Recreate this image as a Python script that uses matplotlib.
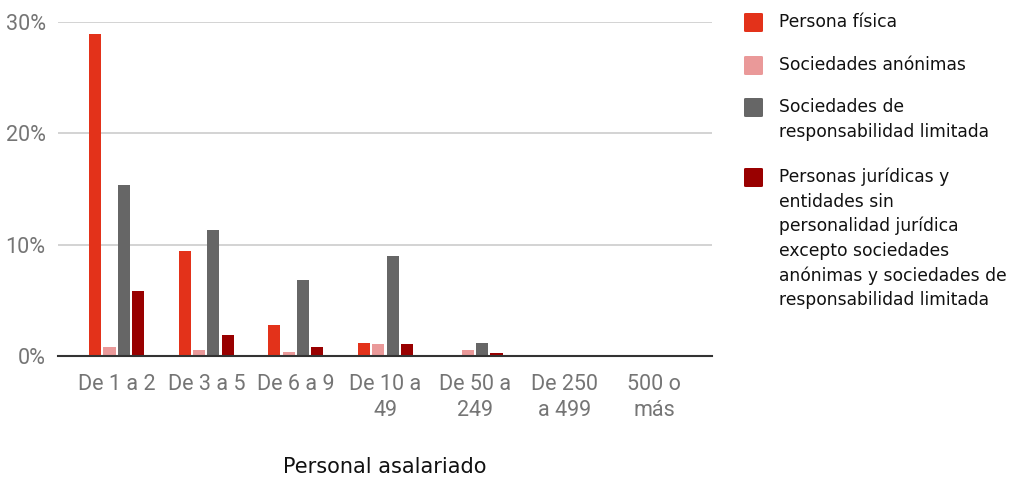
import matplotlib
matplotlib.use("Agg")
import matplotlib.pyplot as plt
import numpy as np
from matplotlib.patches import FancyBboxPatch

# data (percent)
categories = ["De 1 a 2", "De 3 a 5", "De 6 a 9", "De 10 a\n49", "De 50 a\n249", "De 250\na 499", "500 o\nmás"]
persona_fisica = [28.9, 9.4, 2.8, 1.2, 0.0, 0.0, 0.0]
soc_anonimas = [0.85, 0.55, 0.4, 1.05, 0.55, 0.0, 0.0]
soc_resp_limitada = [15.4, 11.3, 6.8, 9.0, 1.2, 0.0, 0.0]
otras_juridicas = [5.85, 1.85, 0.85, 1.05, 0.25, 0.0, 0.0]

series_names = [
    "Persona física",
    "Sociedades anónimas",
    "Sociedades de\nresponsabilidad limitada",
    "Personas jurídicas y\nentidades sin\npersonalidad jurídica\nexcepto sociedades\nanónimas y sociedades de\nresponsabilidad limitada",
]
series = [persona_fisica, soc_anonimas, soc_resp_limitada, otras_juridicas]
colors = ["#e3321a", "#ea9999", "#666666", "#990000"]

fig = plt.figure(figsize=(10.13, 4.78), dpi=100)
ax = fig.add_axes([58 / 1013, 1 - 356 / 478, 654 / 1013, 334 / 478])

x = np.arange(len(categories))
step = 0.16
width = 0.135
for i, (vals, col) in enumerate(zip(series, colors)):
    ax.bar(x + (i - 1.5) * step, vals, width, color=col, zorder=3)

ax.set_xlim(-0.655, len(categories) - 1 + 0.645)
ax.set_ylim(0, 30)
ax.set_yticks([0, 10, 20, 30])
ax.set_yticklabels(["0%", "10%", "20%", "30%"])
ax.yaxis.grid(True, color="#cccccc", linewidth=1.2, zorder=0)
ax.set_xticks(x)
ax.set_xticklabels(categories, linespacing=1.3)

for s in ["top", "right", "left"]:
    ax.spines[s].set_visible(False)
ax.spines["bottom"].set_color("#333333")
ax.spines["bottom"].set_linewidth(1.5)
ax.spines["bottom"].set_zorder(4)
ax.tick_params(axis="both", length=0, labelcolor="#757575", labelsize=15.5)
ax.tick_params(axis="y", pad=9)
ax.tick_params(axis="x", pad=13)
for lab in ax.get_xticklabels() + ax.get_yticklabels():
    lab.set_fontfamily("Roboto")

fig.text(385 / 1013, 1 - 467 / 478, "Personal asalariado", ha="center", va="center",
         fontsize=15, color="#111111", family="DejaVu Sans")

# legend drawn by hand to match the wrapped entries
leg_tops = [22, 65, 107, 177]
line_h = 24.6
for name, col, ty in zip(series_names, colors, leg_tops):
    sq = FancyBboxPatch((744 / 1013, 1 - (ty + 10) / 478), 19 / 1013, 19 / 478,
                        boxstyle="round,pad=0,rounding_size=0.002",
                        transform=fig.transFigure, color=col, linewidth=0)
    fig.patches.append(sq)
    for j, line in enumerate(name.split("\n")):
        fig.text(779 / 1013, 1 - (ty + j * line_h) / 478, line, ha="left", va="center",
                 fontsize=12.3, color="#111111", family="DejaVu Sans")

fig.savefig("out.png", dpi=100, facecolor="white")
